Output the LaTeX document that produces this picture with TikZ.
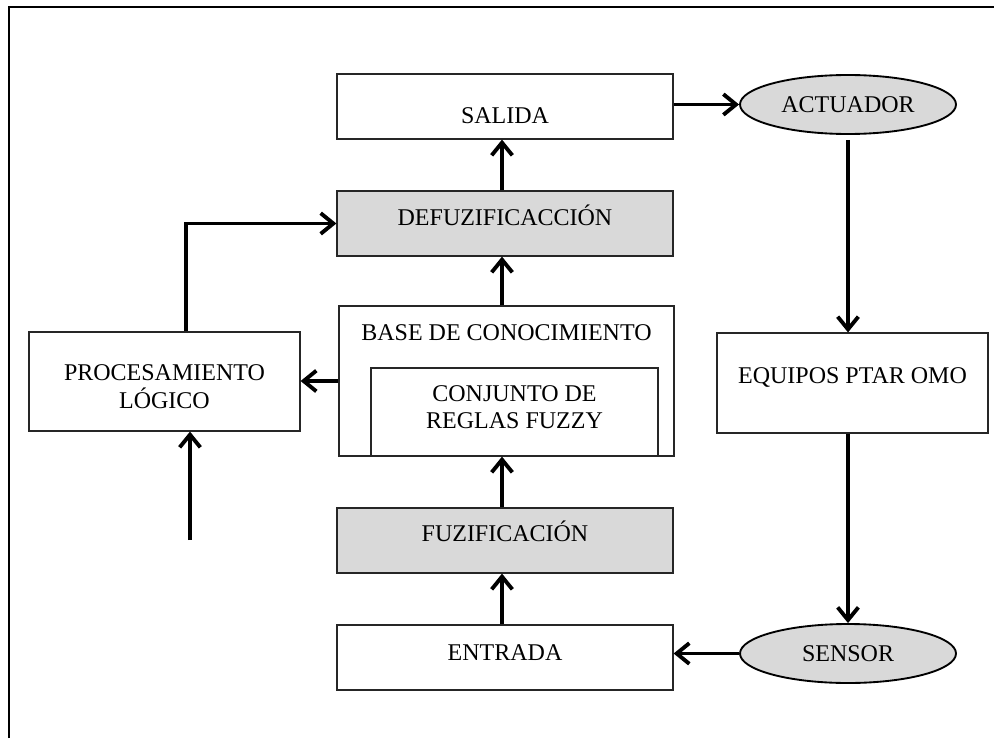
\documentclass[tikz,border=0pt]{standalone}
\usepackage{fontspec}
\setmainfont{Liberation Serif}
\usetikzlibrary{arrows.meta,shapes.geometric}
\definecolor{fillgray}{HTML}{D9D9D9}
\begin{document}
\begin{tikzpicture}[x=0.75pt,y=-0.75pt,
  txt/.style={font=\fontsize{18pt}{20.5pt}\selectfont},
  box/.style={txt, rectangle, draw=black!85, line width=0.9pt, inner sep=0pt, text depth=0pt},
  wide/.style={minimum width=252pt, minimum height=48.75pt},
  shaded/.style={fill=fillgray},
  ell/.style={txt, ellipse, draw=black, line width=1.4pt, fill=fillgray, inner sep=0pt,
    minimum width=162pt, minimum height=44.25pt},
  arr/.style={line width=2.9pt, -{Straight Barb[length=9.5pt,width=15.5pt]}},
  frameline/.style={line width=1.3pt}]
\useasboundingbox (0,0) rectangle (994,738);
\fill[white] (0,0) rectangle (994,738);
\draw[frameline] (9,738) -- (9,7) -- (994,7);

% boxes
\node[box, wide, text height=24.75pt] (salida) at (505,106.5) {SALIDA};
\node[box, wide, shaded, text height=2.25pt] (defuz) at (505,223.5) {DEFUZIFICACCIÓN};
\node[box, minimum width=251.25pt, minimum height=112.5pt, text height=0pt, text depth=61.5pt]
  (base) at (506.5,381) {BASE DE CONOCIMIENTO};
\node[box, minimum width=215.25pt, minimum height=66pt, text height=0pt, text depth=16.5pt]
  (conj) at (514.5,412) {\begin{tabular}[t]{@{}c@{}}CONJUNTO DE\\REGLAS FUZZY\end{tabular}};
\node[box, wide, shaded, text height=0.75pt] (fuz) at (505,540.5) {FUZIFICACIÓN};
\node[box, wide, text height=3.75pt] (entrada) at (505,657.5) {ENTRADA};
\node[box, minimum width=203.25pt, minimum height=74.25pt, text height=0pt, text depth=2.25pt]
  (proc) at (164.5,381.5) {\begin{tabular}[t]{@{}c@{}}PROCESAMIENTO\\LÓGICO\end{tabular}};
\node[box, minimum width=203.25pt, minimum height=75pt, text height=0pt]
  (equipos) at (852.5,383) {EQUIPOS PTAR OMO};
\node[ell] (act) at (848,104.5) {ACTUADOR};
\node[ell] (sensor) at (848,653.5) {SENSOR};

% helper coordinates
\coordinate (mid) at (502,0);
\coordinate (up) at (186,0);
\coordinate (src) at (190,540);

% connectors
\draw[arr] (act.west -| salida.east) -- (act.west);
\draw[arr, shorten <=3.75pt] (act.south) -- (act.south |- equipos.north);
\draw[arr] (equipos.south -| sensor.north) -- (sensor.north);
\draw[arr] (sensor.west) -- (sensor.west -| entrada.east);
\draw[arr] (entrada.north -| mid) -- (fuz.south -| mid);
\draw[arr] (fuz.north -| mid) -- (base.south -| mid);
\draw[arr] (base.north -| mid) -- (defuz.south -| mid);
\draw[arr] (defuz.north -| mid) -- (salida.south -| mid);
\draw[arr] (base.west) -- (base.west -| proc.east);
\draw[arr] (proc.north -| up) |- (defuz.west);
\draw[arr] (src) -- (src |- proc.south);
\end{tikzpicture}
\end{document}
